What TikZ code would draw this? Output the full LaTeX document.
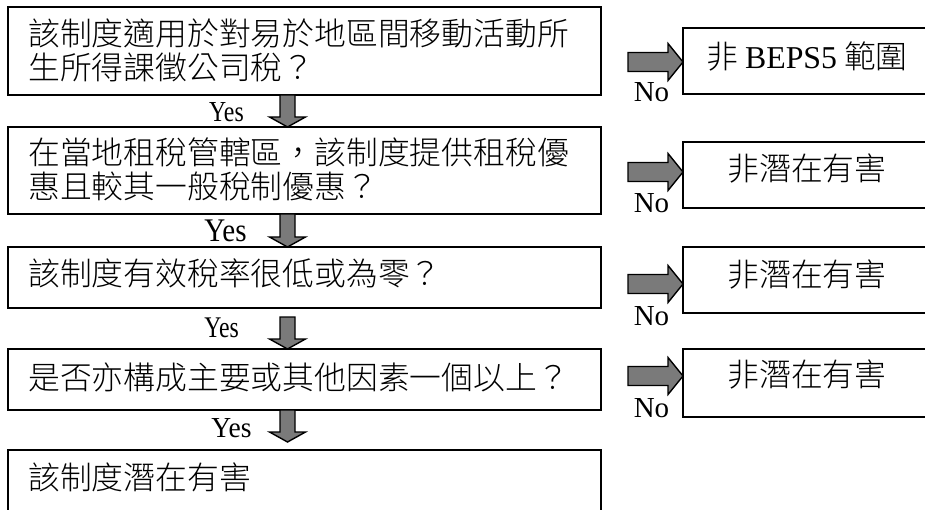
\documentclass[tikz,border=0pt]{standalone}
\usepackage{fontspec}
\setmainfont{Liberation Serif}
\newfontfamily\cjk{Noto Sans CJK TC Light}
\usetikzlibrary{calc}
\newcommand\dnarrow[2]{%
  \draw[blockarrow] let \p1=(#1), \p2=(#2) in
    (\x1-7.5pt,\y1) -- (\x1+7.5pt,\y1) -- (\x1+7.5pt,\y2+10pt) -- (\x1+18pt,\y2+10pt)
    -- (\x1,\y2) -- (\x1-18pt,\y2+10pt) -- (\x1-7.5pt,\y2+10pt) -- cycle;}
\newcommand\rtarrow[2]{%
  \draw[blockarrow] let \p1=(#1), \p2=(#2) in
    (\x1,\y1+9.5pt) -- (\x2-15pt,\y1+9.5pt) -- (\x2-15pt,\y1+18.5pt) -- (\x2,\y1)
    -- (\x2-15pt,\y1-18.5pt) -- (\x2-15pt,\y1-9.5pt) -- (\x1,\y1-9.5pt) -- cycle;}
\begin{document}
\begin{tikzpicture}[x=1pt,y=-1pt,
  box/.style={draw, line width=2pt, outer sep=0pt, inner sep=0pt},
  mainbox/.style={box, minimum width=593pt},
  sidebox/.style={box, minimum width=257pt},
  cjktext/.style={inner sep=0pt, font=\cjk\fontsize{31.8pt}{34pt}\selectfont},
  lab/.style={inner sep=0pt, anchor=base, font=\fontsize{29pt}{30pt}\selectfont},
  blockarrow/.style={draw=black, line width=1.4pt, fill=gray!90!black!95, line join=miter}]
\clip (0,0) rectangle (925,510);
\useasboundingbox (0,0) rectangle (925,510);
% main boxes
\node[mainbox, minimum height=88pt] (b1) at (304.5,51) {};
\node[mainbox, minimum height=87pt] (b2) at (304.5,170.5) {};
\node[mainbox, minimum height=61pt] (b3) at (304.5,277.5) {};
\node[mainbox, minimum height=61pt] (b4) at (304.5,379.5) {};
\node[mainbox, minimum height=90pt] (b5) at (304.5,495) {};
% side boxes
\node[sidebox, minimum height=66pt] (r1) at (811.5,61) {};
\node[sidebox, minimum height=66pt] (r2) at (811.5,175) {};
\node[sidebox, minimum height=66pt] (r3) at (811.5,280) {};
\node[sidebox, minimum height=68pt] (r4) at (811.5,383) {};
% texts
\node[cjktext, anchor=base west] (t1a) at (28,46) {該制度適用於對易於地區間移動活動所};
\node[cjktext, anchor=base west] (t1b) at (28,80) {生所得課徵公司稅？};
\node[cjktext, anchor=base west] (t2a) at (28,165) {在當地租稅管轄區，該制度提供租稅優};
\node[cjktext, anchor=base west] (t2b) at (28,199) {惠且較其一般稅制優惠？};
\node[cjktext, anchor=base west] (t3) at (28,286) {該制度有效稅率很低或為零？};
\node[cjktext, anchor=base west] (t4) at (28,389) {是否亦構成主要或其他因素一個以上？};
\node[cjktext, anchor=base west] (t5) at (28,489) {該制度潛在有害};
\node[cjktext, anchor=base] (s1) at (807,69) {非 {\rmfamily BEPS5} 範圍};
\node[cjktext, anchor=base] (s2) at (807,181) {非潛在有害};
\node[cjktext, anchor=base] (s3) at (807,287) {非潛在有害};
\node[cjktext, anchor=base] (s4) at (807,386) {非潛在有害};
% down arrows
\coordinate (ax) at (287.5,0);
\dnarrow{ax |- b1.south}{ax |- b2.north}
\dnarrow{ax |- b2.south}{ax |- b3.north}
\dnarrow{$(ax |- b3.south)+(0,9)$}{ax |- b4.north}
\dnarrow{ax |- b4.south}{$(ax |- b5.north)+(0,-8)$}
% right arrows
\coordinate (n1) at (628,62);
\coordinate (n2) at (628,172);
\coordinate (n3) at (628,284);
\coordinate (n4) at (628,376);
\rtarrow{n1}{r1.west |- n1}
\rtarrow{n2}{r2.west |- n2}
\rtarrow{n3}{r3.west |- n3}
\rtarrow{n4}{r4.west |- n4}
% labels
\node[lab] (y1) at (226.5,122) {\scalebox{0.82}[1]{Yes}};
\node[lab, font=\fontsize{33pt}{34pt}\selectfont] (y2) at (225.5,242) {\scalebox{0.88}[1]{Yes}};
\node[lab, font=\fontsize{30pt}{31pt}\selectfont] (y3) at (221.5,337) {\scalebox{0.79}[1]{Yes}};
\node[lab] (y4) at (231.5,437) {\scalebox{0.95}[1]{Yes}};
\node[lab] (no1) at (651.5,102) {No};
\node[lab] (no2) at (651.5,213) {No};
\node[lab] (no3) at (651.5,325) {No};
\node[lab] (no4) at (651.5,417) {No};
\end{tikzpicture}
\end{document}
